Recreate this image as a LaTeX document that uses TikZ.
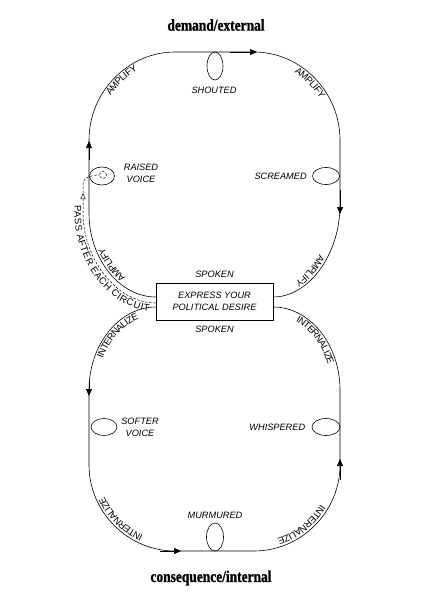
\documentclass[tikz,border=0pt]{standalone}
\usepackage{fontspec}
\setmainfont{Liberation Serif}
\setsansfont{Liberation Sans}
\newfontfamily\headfont[FakeStretch=0.82,FakeBold=1.2]{Liberation Serif}
\usetikzlibrary{arrows.meta,positioning,shapes.geometric,decorations.text}

\begin{document}
\begin{tikzpicture}[
  x=1pt, y=-1pt,
  every node/.style={font=\sffamily\itshape\fontsize{9.2}{12}\selectfont},
  loopLine/.style={black, line width=0.6pt},
  passLine/.style={black, line width=0.5pt, dash pattern=on 2.5pt off 1.6pt},
  curl/.style={ellipse, draw, line width=0.6pt, inner sep=0pt},
  flowTip/.style={-{Triangle[length=7pt,width=6pt]}, line width=0.6pt},
  headline/.style={font=\headfont\bfseries\fontsize{16.4}{17}\selectfont},
  pathText/.style={decorate, decoration={text along path,
    text align={left indent=0pt, center}, raise=-8.5pt,
    text={|\sffamily\fontsize{9.5}{9.5}\selectfont|#1}}},
  textShift/.style={decoration={text align={left indent=#1, center}}}
]
\useasboundingbox (0,0) rectangle (431,599);

\node[headline] (demandTitle) at (216,25) {demand/external};
\node[headline] (consequenceTitle) at (211,578) {consequence/internal};

\node[draw, line width=0.6pt, minimum width=117pt, minimum height=37pt,
  inner sep=0pt, align=center] (desire) at (214.5,301.5)
  {EXPRESS YOUR\\POLITICAL DESIRE};
\node[above=2pt of desire] (spokenTop) {SPOKEN};
\node[below=2.5pt of desire] (spokenBottom) {SPOKEN};

% corners of the upper loop (amplify)
\coordinate (tl1) at (89,213);
\coordinate (tl2) at (89,140);
\coordinate (tl3) at (175,52);
\coordinate (tl4) at (254,52);
\coordinate (tr1) at (340,140);
\coordinate (tr2) at (340,205);
% corners of the lower loop (internalize)
\coordinate (bl1) at (89,390);
\coordinate (bl2) at (89,465);
\coordinate (bl3) at (175,551);
\coordinate (bl4) at (254,551);
\coordinate (br1) at (340,465);
\coordinate (br2) at (340,390);

\draw[loopLine] ([yshift=4.5pt]desire.west) .. controls +(-36,0) and +(0,46) .. (tl1)
  -- (tl2) .. controls +(0,-48) and +(-47,0) .. (tl3)
  -- (tl4) .. controls +(47,0) and +(0,-48) .. (tr1)
  -- (tr2) .. controls +(0,50) and +(35,0) .. ([yshift=4.5pt]desire.east);
\draw[loopLine] ([yshift=-5.5pt]desire.west) .. controls +(-36,0) and +(0,-46) .. (bl1)
  -- (bl2) .. controls +(0,47) and +(-47,0) .. (bl3)
  -- (bl4) .. controls +(47,0) and +(0,47) .. (br1)
  -- (br2) .. controls +(0,-46) and +(36,0) .. ([yshift=-5.5pt]desire.east);

% direction marks
\draw[flowTip] (89,160) -- (89,141);
\draw[flowTip] (230,52) -- (257,52);
\draw[flowTip] (340,190) -- (340,214);
\draw[flowTip] (89,380) -- (89,396);
\draw[flowTip] (160,551) -- (181,551);
\draw[flowTip] (340,480) -- (340,459);

% curls on the loops
\node[curl, minimum width=16pt, minimum height=28pt] (shoutedLoop) at (215,66) {};
\node[curl, minimum width=25pt, minimum height=18pt] (raisedLoop) at (102,176) {};
\node[curl, minimum width=27pt, minimum height=17pt] (screamedLoop) at (326,176) {};
\node[curl, minimum width=26pt, minimum height=17pt] (softerLoop) at (104,427) {};
\node[curl, minimum width=28pt, minimum height=17pt] (whisperedLoop) at (326,427) {};
\node[curl, minimum width=17pt, minimum height=28pt] (murmuredLoop) at (215,537) {};

\node (shouted) at (214,90) {SHOUTED};
\node[align=center] (raised) at (141,173) {RAISED\\VOICE};
\node[left=2pt of screamedLoop] (screamed) {SCREAMED};
\node[align=center] (softer) at (140,427.5) {SOFTER\\VOICE};
\node[left=3pt of whisperedLoop] (whispered) {WHISPERED};
\node (murmured) at (215,515) {MURMURED};

% the pass back to the raised voice
\node[circle, draw, passLine, minimum size=7pt, inner sep=0pt] (passStart) at (103,175) {};
\draw[passLine, -{Triangle[open,length=6pt,width=5pt]}] ([yshift=-1.5pt]desire.west)
  .. controls +(-39,0) and +(0,46) .. (83,213) -- (83,193);
\draw[passLine] (83,193) -- (83,183) .. controls +(0,-6) and +(-6,0) .. (passStart.west);

% labels along the loops
\path[pathText=AMPLIFY, textShift=8pt] (tl2) .. controls +(0,-48) and +(-47,0) .. (tl3);
\path[pathText=AMPLIFY] (tl4) .. controls +(47,0) and +(0,-48) .. (tr1);
\path[pathText=AMPLIFY, textShift=28pt] (tr2) .. controls +(0,50) and +(35,0) .. ([yshift=4.5pt]desire.east);
\path[pathText=AMPLIFY] ([yshift=4.5pt]desire.west) .. controls +(-36,0) and +(0,46) .. (tl1);
\path[pathText=PASS AFTER EACH CIRCUIT] (83,200) -- (83,213)
  .. controls +(0,46) and +(-39,0) .. ([yshift=-1.5pt]desire.west);
\path[pathText=INTERNALIZE, textShift=14pt] (bl1) .. controls +(0,-46) and +(-36,0) .. ([yshift=-5.5pt]desire.west);
\path[pathText=INTERNALIZE] ([yshift=-5.5pt]desire.east) .. controls +(36,0) and +(0,-46) .. (br2);
\path[pathText=INTERNALIZE, textShift=20pt] (br1) .. controls +(0,47) and +(47,0) .. (bl4);
\path[pathText=INTERNALIZE] (bl3) .. controls +(-47,0) and +(0,47) .. (bl2);
\end{tikzpicture}
\end{document}
